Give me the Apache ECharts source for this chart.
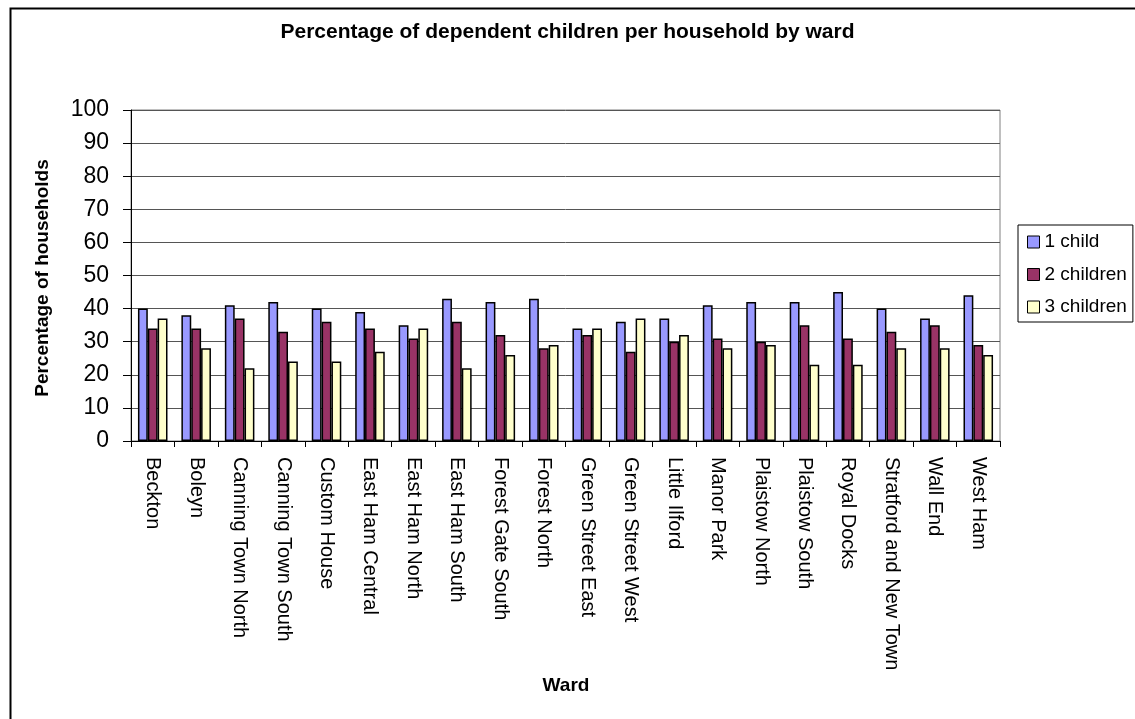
<!DOCTYPE html>
<html>
<head>
<meta charset="utf-8">
<script src="https://cdn.jsdelivr.net/npm/echarts@6/dist/echarts.min.js"></script>
<style>html,body{margin:0;padding:0;background:#fff;}#c{width:1135px;height:719px;}</style>
</head>
<body>
<div id="c"></div>
<script>
const wards = ["Beckton","Boleyn","Canning Town North","Canning Town South","Custom House","East Ham Central","East Ham North","East Ham South","Forest Gate South","Forest North","Green Street East","Green Street West","Little Ilford","Manor Park","Plaistow North","Plaistow South","Royal Docks","Stratford and New Town","Wall End","West Ham"];
const oneChild = [40,38,41,42,40,39,35,43,42,43,34,36,37,41,42,42,45,40,37,44];
const twoChildren = [34,34,37,33,36,34,31,36,32,28,32,27,30,31,30,35,31,33,35,29];
const threeChildren = [37,28,22,24,24,27,34,22,26,29,34,37,32,28,29,23,23,28,28,26];
const yTicks = [0,10,20,30,40,50,60,70,80,90,100];
const seriesNames = ["1 child","2 children","3 children"];

const FONT = "'Liberation Sans', Arial, sans-serif";
const chart = echarts.init(document.getElementById('c'));
const mk = (name, data, color) => ({
  name, type: 'bar', data, barGap: '0%', barCategoryGap: '32%',
  itemStyle: { color, borderColor: '#000', borderWidth: 1.5 },
  animation: false
});
chart.setOption({
  animation: false,
  backgroundColor: '#fff',
  title: {
    text: 'Percentage of dependent children per household by ward',
    left: 'center', top: 17,
    textStyle: { fontFamily: FONT, fontSize: 21, fontWeight: 'bold', color: '#000' }
  },
  legend: {
    orient: 'vertical', left: 1018, top: 225,
    data: seriesNames,
    borderColor: '#000', borderWidth: 1, borderRadius: 0,
    padding: [7, 6, 5, 9],
    itemWidth: 12, itemHeight: 12, itemGap: 12.5,
    icon: 'rect',
    itemStyle: { borderColor: '#000', borderWidth: 1 },
    textStyle: { fontFamily: FONT, fontSize: 19, color: '#000', lineHeight: 20 }
  },
  grid: { left: 131, right: 135, top: 110, bottom: 278, show: true, borderColor: '#808080', borderWidth: 1, containLabel: false },
  xAxis: {
    type: 'category', data: wards, boundaryGap: true,
    axisLine: { lineStyle: { color: '#000', width: 1 } },
    axisTick: { show: true, alignWithLabel: false, length: 6, lineStyle: { color: '#000' } },
    axisLabel: { rotate: -90, margin: 16, interval: 0, fontFamily: FONT, fontSize: 20, color: '#000' }
  },
  yAxis: {
    type: 'value', min: yTicks[0], max: yTicks[yTicks.length - 1], interval: 10,
    axisLine: { show: true, lineStyle: { color: '#000', width: 1 } },
    axisTick: { show: true, length: 8, lineStyle: { color: '#000' } },
    axisLabel: { margin: 22, fontFamily: FONT, fontSize: 23, color: '#000' },
    splitLine: { show: true, lineStyle: { color: '#555', width: 1 } }
  },
  graphic: [
    { type: 'rect', left: 8, top: 6, silent: true, shape: { x: 0, y: 0, width: 1140, height: 730 },
      style: { fill: 'none', stroke: '#000', lineWidth: 2 } },
    { type: 'text', x: 43, y: 278, rotation: Math.PI / 2,
      style: { text: 'Percentage of households', fontFamily: FONT, fontSize: 19, fontWeight: 'bold', fill: '#000', textAlign: 'center', textVerticalAlign: 'middle' } },
    { type: 'text', x: 566, y: 686,
      style: { text: 'Ward', fontFamily: FONT, fontSize: 19, fontWeight: 'bold', fill: '#000', textAlign: 'center', textVerticalAlign: 'middle' } }
  ],
  series: [
    mk(seriesNames[0], oneChild, '#9999FF'),
    mk(seriesNames[1], twoChildren, '#993366'),
    mk(seriesNames[2], threeChildren, '#FFFFCC')
  ]
});
</script>
</body>
</html>
